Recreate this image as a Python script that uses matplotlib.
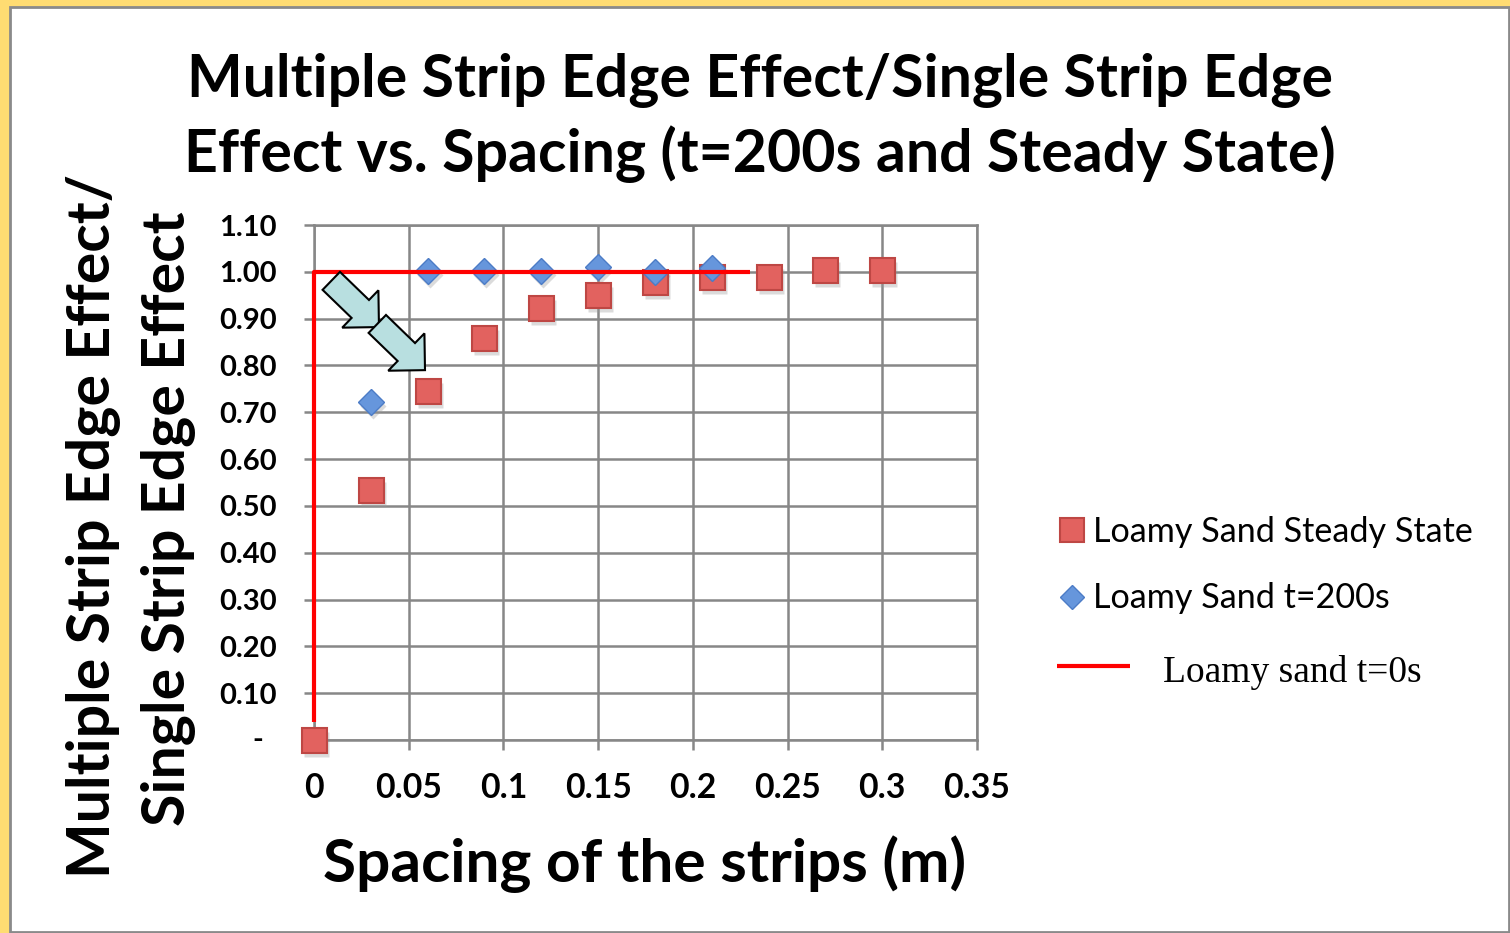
import matplotlib
matplotlib.use("Agg")
import matplotlib.pyplot as plt
from matplotlib.patches import Rectangle, FancyArrow
from matplotlib.lines import Line2D
from matplotlib.transforms import IdentityTransform, offset_copy, blended_transform_factory

W, H, DPI = 1510, 933, 100

# ---- data -------------------------------------------------------------
spacing_ss = [0.00, 0.03, 0.06, 0.09, 0.12, 0.15, 0.18, 0.21, 0.24, 0.27, 0.30]
ratio_ss = [0.000, 0.533, 0.745, 0.858, 0.922, 0.951, 0.979, 0.990, 0.990, 1.003, 1.003]

spacing_t200 = [0.03, 0.06, 0.09, 0.12, 0.15, 0.18, 0.21]
ratio_t200 = [0.721, 1.002, 1.002, 1.002, 1.010, 1.000, 1.008]

spacing_t0 = [0.0, 0.0, 0.23]
ratio_t0 = [0.038, 1.0, 1.0]

x_ticks = [0, 0.05, 0.10, 0.15, 0.20, 0.25, 0.30, 0.35]
x_tick_labels = ["0", "0.05", "0.1", "0.15", "0.2", "0.25", "0.3", "0.35"]
y_ticks = [0, 0.1, 0.2, 0.3, 0.4, 0.5, 0.6, 0.7, 0.8, 0.9, 1.0, 1.1]
y_tick_labels = ["", "0.10", "0.20", "0.30", "0.40", "0.50", "0.60",
                 "0.70", "0.80", "0.90", "1.00", "1.10"]

title_lines = ["Multiple Strip Edge Effect/Single Strip Edge",
               "Effect vs. Spacing (t=200s and Steady State)"]
ylabel_lines = ["Multiple Strip Edge Effect/", "Single Strip Edge Effect"]
xlabel = "Spacing of the strips (m)"
legend_labels = ["Loamy Sand Steady State", "Loamy Sand t=200s", "Loamy sand t=0s"]

# ---- styles -----------------------------------------------------------
SANS = "Lato"
SERIF = "Liberation Serif"
GRID = "#878787"
RED_FACE, RED_EDGE = "#e2625f", "#be4744"
BLUE_FACE, BLUE_EDGE = "#6696dc", "#4c7cc6"
ARROW_FACE = "#b8dfe0"

plt.rcParams["font.family"] = [SANS, "DejaVu Sans"]

fig = plt.figure(figsize=(W / DPI, H / DPI), dpi=DPI)
fig.patch.set_facecolor("#ffdc72")
PX = IdentityTransform()


def img(x, y):
    """Pixel position measured from the top-left corner -> display coords."""
    return x, H - y


# white slide panel with grey frame
fig.add_artist(Rectangle((10, 1), 1498.5, 925.5,
                         facecolor="white", edgecolor="#8a8a8a",
                         linewidth=2.0, transform=PX, zorder=-10))

ax = fig.add_axes([314 / W, (H - 740) / H, (977 - 314) / W, (740 - 225) / H])
ax.set_xlim(0, 0.35)
ax.set_ylim(0, 1.1)
ax.set_facecolor("white")

ax.set_xticks(x_ticks)
ax.set_xticklabels(x_tick_labels, fontsize=24.3, fontweight="bold")
ax.set_yticks(y_ticks)
ax.set_yticklabels(y_tick_labels, fontsize=21, fontweight="bold")
ax.tick_params(axis="x", direction="out", length=7, width=1.8, color=GRID, pad=16)
ax.tick_params(axis="y", direction="out", length=7, width=1.8, color=GRID, pad=20)
ax.grid(True, color=GRID, linewidth=1.8)
ax.set_axisbelow(True)
for s in ax.spines.values():
    s.set_color(GRID)
    s.set_linewidth(1.8)

# zero on the value axis is shown as a dash
ax.text(-0.085, 0, "-", transform=blended_transform_factory(ax.transAxes, ax.transData),
        ha="center", va="center", fontsize=21, fontweight="bold")

# soft drop shadows under the markers
shadow = offset_copy(ax.transData, fig=fig, x=2, y=-4, units="dots")
ax.plot(spacing_ss, ratio_ss, linestyle="none", marker="s", ms=18,
        mfc="#9a9a9a", mec="none", alpha=0.35, transform=shadow, zorder=2, clip_on=False)
ax.plot(spacing_t200, ratio_t200, linestyle="none", marker="D", ms=13,
        mfc="#9a9a9a", mec="none", alpha=0.35, transform=shadow, zorder=2, clip_on=False)

ax.plot(spacing_ss, ratio_ss, linestyle="none", marker="s", ms=18,
        mfc=RED_FACE, mec=RED_EDGE, mew=1.5, zorder=3, clip_on=False)
ax.plot(spacing_t200, ratio_t200, linestyle="none", marker="D", ms=13,
        mfc=BLUE_FACE, mec=BLUE_EDGE, mew=1.0, zorder=4, clip_on=False)
ax.plot(spacing_t0, ratio_t0, color="#ff0000", linewidth=3.0, zorder=5,
        solid_capstyle="butt", clip_on=False)

# block arrows pointing at the first points
fig.canvas.draw()
for tip_data in [(0.0343, 0.882), (0.0586, 0.790)]:
    tx, ty = ax.transData.transform(tip_data)
    dx, dy = 47.7, -46.2
    fig.add_artist(FancyArrow(tx - dx, ty - dy, dx, dy, width=25, head_width=52,
                              head_length=26, length_includes_head=True,
                              facecolor=ARROW_FACE, edgecolor="black",
                              linewidth=1.5, transform=PX, zorder=10))

# titles and axis labels
for line, yb in zip(title_lines, [97, 172]):
    fig.text(*img(760, yb), line, transform=PX, ha="center", va="baseline",
             fontsize=42.5, fontweight="bold")
for line, xb, yc in zip(ylabel_lines, [110, 185], [526, 519]):
    fig.text(*img(xb, yc), line, transform=PX, rotation=90, rotation_mode="anchor",
             ha="center", va="baseline", fontsize=42.5, fontweight="bold")
fig.text(*img(645, 882), xlabel, transform=PX, ha="center", va="baseline",
         fontsize=43.5, fontweight="bold")

# legend
fig.add_artist(Line2D([1072], [H - 530], marker="s", ms=17, mfc=RED_FACE, mec=RED_EDGE,
                      mew=1.5, linestyle="none", transform=PX))
fig.add_artist(Line2D([1072], [H - 597], marker="D", ms=12.5, mfc=BLUE_FACE, mec=BLUE_EDGE,
                      mew=1.0, linestyle="none", transform=PX))
fig.add_artist(Line2D([1057, 1130], [H - 665.5, H - 665.5], color="#ff0000", linewidth=3.0,
                      solid_capstyle="butt", transform=PX))
fig.text(*img(1093, 542), legend_labels[0], transform=PX, ha="left", va="baseline",
         fontsize=24.6)
fig.text(*img(1093, 608), legend_labels[1], transform=PX, ha="left", va="baseline",
         fontsize=24.6)
fig.text(*img(1163, 682), legend_labels[2], transform=PX, ha="left", va="baseline",
         fontsize=27, family=[SERIF, "DejaVu Serif"])

fig.savefig("out.png", dpi=DPI, facecolor=fig.get_facecolor())
